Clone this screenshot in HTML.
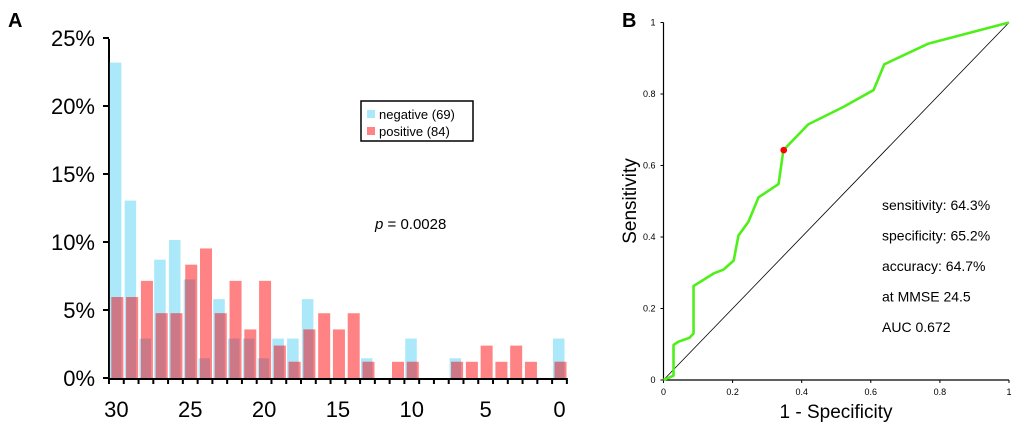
<!DOCTYPE html>
<html><head><meta charset="utf-8"><style>
body{margin:0;background:#fff;font-family:"Liberation Sans",Arial,sans-serif;}
svg text{font-family:"Liberation Sans",Arial,sans-serif;}
</style></head><body>
<svg id="s" width="1020" height="428" viewBox="0 0 1020 428" xmlns="http://www.w3.org/2000/svg">
<text x="8" y="27" font-size="20" font-weight="bold">A</text>
<text x="622" y="27" font-size="20" font-weight="bold">B</text>
<g id="hist"></g>
<g id="roc"></g>
</svg>
<script>
const bins=[30,29,28,27,26,25,24,23,22,21,20,19,18,17,16,15,14,13,12,11,10,9,8,7,6,5,4,3,2,1,0];
const negCounts=[16,9,2,6,7,5,1,4,2,2,1,2,2,4,0,0,0,1,0,0,2,0,0,1,0,0,0,0,0,0,2];
const posCounts=[5,5,6,4,4,7,8,4,6,3,6,2,1,3,4,3,4,1,0,1,1,0,0,1,1,2,1,2,1,0,1];
const yTicks=[0,5,10,15,20,25];
const xTickLabels=[30,25,20,15,10,5,0];
const rocFpr=[0,0.029,0.029,0.043,0.075,0.087,0.087,0.145,0.174,0.203,0.217,0.246,0.275,0.333,0.347,0.419,0.521,0.608,0.639,0.767,1];
const rocTpr=[0,0.012,0.098,0.107,0.118,0.13,0.263,0.298,0.309,0.334,0.404,0.443,0.511,0.548,0.643,0.715,0.764,0.811,0.883,0.941,1];
const cutFpr=0.348, cutTpr=0.643;
const rocTicks=[0,0.2,0.4,0.6,0.8,1];
const rocLabels=["0","0.2","0.4","0.6","0.8","1"];
const stats=["sensitivity: 64.3%","specificity: 65.2%","accuracy: 64.7%","at MMSE 24.5","AUC 0.672"];

const NS="http://www.w3.org/2000/svg";
function mk(p,t,a){const e=document.createElementNS(NS,t);for(const k in a)e.setAttribute(k,a[k]);p.appendChild(e);return e;}
const H=document.getElementById('hist');
const x0=109,bw=14.77,y0=378,ppp=68/5;
const xb=v=>x0+(30-v+0.5)*bw;
const yp=p=>y0-p*ppp;
let ax=mk(H,'line',{x1:x0,y1:39,x2:x0,y2:y0,stroke:'#000','stroke-width':2});

let bx=mk(H,'line',{x1:x0-1,y1:y0+1,x2:x0+31*bw,y2:y0+1,stroke:'#000','stroke-width':2});

yTicks.forEach(t=>{
  const l=mk(H,'line',{x1:x0-6,y1:yp(t),x2:x0,y2:yp(t),stroke:'#000','stroke-width':2});
  
  const tx=mk(H,'text',{x:95,y:yp(t)+8,'font-size':22,'text-anchor':'end'});tx.textContent=t+'%';
  
});
for(let i=0;i<=31;i++){
  const l=mk(H,'line',{x1:x0+i*bw,y1:y0,x2:x0+i*bw,y2:y0+6,stroke:'#000','stroke-width':2});
  
}
xTickLabels.forEach(v=>{
  const tx=mk(H,'text',{x:xb(v),y:417,'font-size':22,'text-anchor':'middle'});tx.textContent=v;
  
});
const bL=-6.5,bW=11.5,rL=-5,rW=12;
bins.forEach((b,i)=>{
  const p=negCounts[i]/69*100;
  if(p>0){const r=mk(H,'rect',{x:xb(b)+bL,y:yp(p),width:bW,height:y0-yp(p),fill:'#aae8fa'});
  }
});
bins.forEach((b,i)=>{
  const p=posCounts[i]/84*100;
  if(p>0){const r=mk(H,'rect',{x:xb(b)+rL,y:yp(p),width:rW,height:y0-yp(p),fill:'#ff8284'});
  }
  const q=negCounts[i]/69*100;
  const m=Math.min(p,q);
  if(m>0){const o=mk(H,'rect',{x:xb(b)+rL,y:yp(m),width:bW+bL-rL,height:y0-yp(m),fill:'#cc7887'});
  }
});
const lg=mk(H,'g',{});
mk(lg,'rect',{x:361,y:101,width:112,height:40,fill:'#fff',stroke:'#000','stroke-width':1.5});
const e1=mk(lg,'rect',{x:367,y:110,width:8,height:8,fill:'#aae8fa'});
const e2=mk(lg,'rect',{x:367,y:127,width:8,height:8,fill:'#ff8284'});
let t1=mk(lg,'text',{x:379,y:119,'font-size':13});t1.textContent='negative (69)';
let t2=mk(lg,'text',{x:379,y:136,'font-size':13});t2.textContent='positive (84)';
let pv=mk(H,'text',{x:375,y:229,'font-size':15});pv.innerHTML='<tspan font-style="italic">p</tspan> = 0.0028';


const R=document.getElementById('roc');
const rx0=663.5,rx1=1009,ry0=380,ry1=22.5;
const sx=v=>rx0+v*(rx1-rx0), sy=v=>ry0-v*(ry0-ry1);
let ra=mk(R,'line',{x1:rx0,y1:ry1,x2:rx0,y2:ry0,stroke:'#000','stroke-width':1.2});
let rb=mk(R,'line',{x1:rx0,y1:ry0,x2:rx1,y2:ry0,stroke:'#000','stroke-width':1.2});
rocTicks.forEach((t,i)=>{
  let a=mk(R,'line',{x1:rx0-3,y1:sy(t),x2:rx0,y2:sy(t),stroke:'#000'});
  let b=mk(R,'line',{x1:sx(t),y1:ry0,x2:sx(t),y2:ry0+3,stroke:'#000'});
  let c=mk(R,'text',{x:rx0-8,y:sy(t)+3,'font-size':9,'text-anchor':'end'});c.textContent=rocLabels[i];
  let d=mk(R,'text',{x:sx(t),y:ry0+15,'font-size':9,'text-anchor':'middle'});d.textContent=rocLabels[i];
});
let dg=mk(R,'line',{x1:sx(0),y1:sy(0),x2:sx(1),y2:sy(1),stroke:'#000','stroke-width':0.8});
let pts=rocFpr.map((f,i)=>sx(f)+','+sy(rocTpr[i])).join(' ');
let cv=mk(R,'polyline',{points:pts,fill:'none',stroke:'#4ff01a','stroke-width':2.6,'stroke-linejoin':'round'});

let cp=mk(R,'circle',{cx:sx(cutFpr),cy:sy(cutTpr),r:3.3,fill:'#f00'});
let xt=mk(R,'text',{x:836,y:418,'font-size':19,'text-anchor':'middle'});xt.textContent='1 - Specificity';
let yt=mk(R,'text',{x:0,y:0,'font-size':19,'text-anchor':'middle',transform:'translate(636,201) rotate(-90)'});yt.textContent='Sensitivity';
stats.forEach((s,i)=>{let t=mk(R,'text',{x:882,y:210+i*30.5,'font-size':14});t.textContent=s;});
</script>
</body></html>
